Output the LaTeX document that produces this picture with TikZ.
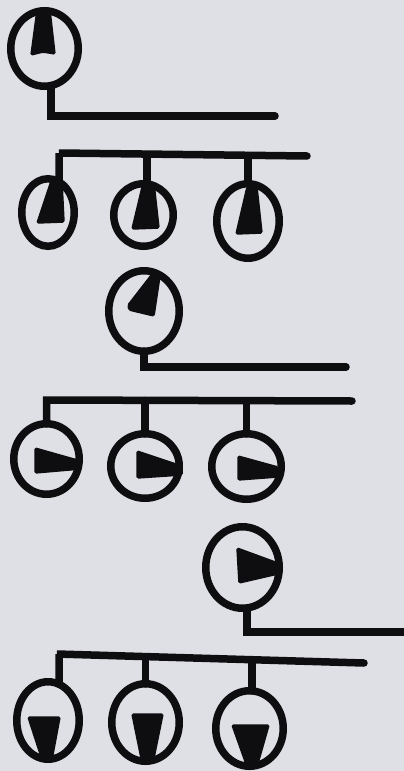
\documentclass[tikz,border=0pt]{standalone}
\usetikzlibrary{shapes.geometric}
\definecolor{paper}{RGB}{223,224,230}
\definecolor{ink}{RGB}{14,14,16}
\tikzset{
  dial/.style={ellipse, draw=ink, line width=7.5pt, inner sep=0pt, outer sep=0pt,
               minimum width=#1},
  wire/.style={draw=ink, line width=7.5pt, line cap=round, line join=miter},
  hand/.style={fill=ink, draw=ink, line width=1.5pt, rounded corners=1.5pt}
}
\begin{document}
\begin{tikzpicture}[x=1pt, y=-1pt]
\useasboundingbox (0,0) rectangle (404,771);
\fill[paper] (0,0) rectangle (404,771);

% ---- dials (ellipse nodes) ----
\node[dial=67.5pt, minimum height=75.5pt] (A)  at (44.5,48.5)  {};
\node[dial=52.5pt, minimum height=67.5pt] (B1) at (48,212.5)   {};
\node[dial=59.5pt, minimum height=62.5pt] (B2) at (143.5,215)  {};
\node[dial=62.5pt, minimum height=74.5pt] (B3) at (248,221)    {};
\node[dial=70.5pt, minimum height=80.5pt] (C)  at (144,311)    {};
\node[dial=65.5pt, minimum height=70.5pt] (D1) at (46.5,459)   {};
\node[dial=68.5pt, minimum height=64.5pt] (D2) at (145,466)    {};
\node[dial=69.5pt, minimum height=65.5pt] (D3) at (246.5,466.5){};
\node[dial=73.5pt, minimum height=81.5pt] (E)  at (242.5,567.5){};
\node[dial=62.5pt, minimum height=77.5pt] (F1) at (48,720.5)   {};
\node[dial=67.5pt, minimum height=77.5pt] (F2) at (145.5,722.5){};
\node[dial=67.5pt, minimum height=75.5pt] (F3) at (249.5,728.5){};

% ---- free ends of the wires ----
\coordinate (aEnd)   at (275,116);
\coordinate (bStart) at (59,153);
\coordinate (bEnd)   at (307,156);
\coordinate (cEnd)   at (346,367);
\coordinate (dStart) at (48,400);
\coordinate (dEnd)   at (352,401);
\coordinate (eEnd)   at (412,632);
\coordinate (fStart) at (57,654);
\coordinate (fEnd)   at (364,663);

% ---- wires ----
\draw[wire] (A.-80) |- (aEnd);
\draw[wire] (B1.70) |- (bStart) -- (bEnd);
\draw[wire] (B2.84) -- (B2.84 |- 0,154.5);
\draw[wire] (B3.north) -- (B3.north |- 0,155.5);
\draw[wire] (C.south) |- (cEnd);
\draw[wire] (D1.north) |- (dStart) -- (dEnd);
\draw[wire] (D2.north) -- (D2.north |- 0,400.5);
\draw[wire] (D3.north) -- (D3.north |- 0,401);
\draw[wire] (E.-84) |- (eEnd);
\draw[wire] (F1.73) |- (fStart) -- (fEnd);
\draw[wire] (F2.north) -- (F2.north |- 0,658.5);
\draw[wire] (F3.86) -- (F3.86 |- 0,661.5);

% ---- hands ----
% pointing up
\filldraw[hand] (37,10) -- (50,10) -- (55,54) -- (43,52) -- (31,55) -- cycle;
\filldraw[hand] (51,181) -- (62,181) -- (64,222) -- (37,223) -- cycle;
\filldraw[hand] (143,183) -- (154,183) -- (159,228) -- (132,229) -- cycle;
\filldraw[hand] (247,187) -- (257,187) -- (262,233) -- (236,234) -- cycle;
% pointing up and to the right
\filldraw[hand] (152,274) -- (160,276) -- (154,316) -- (129,310) -- (128,305) -- cycle;
% pointing right
\filldraw[hand] (35,448) -- (81,461) -- (81,469) -- (35,473) -- cycle;
\filldraw[hand] (137,451) -- (182,466) -- (182,475) -- (137,478) -- cycle;
\filldraw[hand] (238,456) -- (278,467) -- (278,477) -- (238,480) -- cycle;
\filldraw[hand] (237,548) -- (278,563) -- (278,574) -- (239,583) -- cycle;
% pointing down
\filldraw[hand] (28,717) -- (60,717) -- (52,760) -- (42,760) -- cycle;
\filldraw[hand] (132,714) -- (163,714) -- (153,763) -- (142,763) -- cycle;
\filldraw[hand] (232,725) -- (269,725) -- (257,767) -- (247,767) -- cycle;
\end{tikzpicture}
\end{document}
